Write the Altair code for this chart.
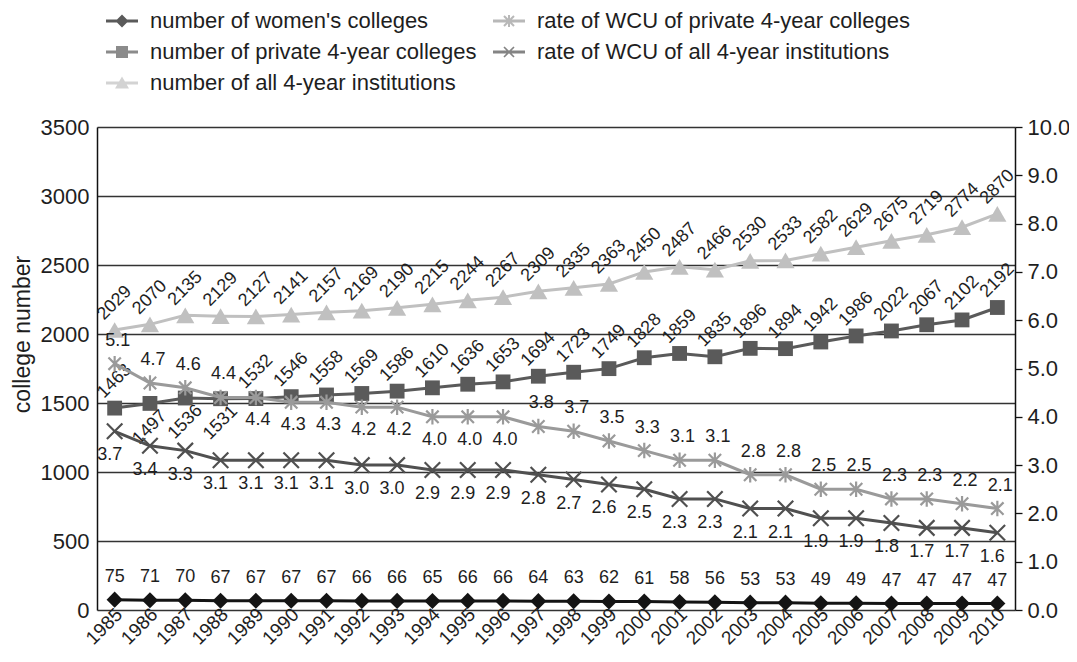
import altair as alt
import pandas as pd

years = list(range(1985, 2011))
women = [75, 71, 70, 67, 67, 67, 67, 66, 66, 65, 66, 66, 64, 63, 62, 61, 58, 56, 53, 53, 49, 49, 47, 47, 47, 47]
private = [1463, 1497, 1536, 1531, 1532, 1546, 1558, 1569, 1586, 1610, 1636, 1653, 1694, 1723, 1749, 1828,
           1859, 1835, 1896, 1894, 1942, 1986, 2022, 2067, 2102, 2192]
all_inst = [2029, 2070, 2135, 2129, 2127, 2141, 2157, 2169, 2190, 2215, 2244, 2267, 2309, 2335, 2363, 2450,
            2487, 2466, 2530, 2533, 2582, 2629, 2675, 2719, 2774, 2870]
rate_private = [5.1, 4.7, 4.6, 4.4, 4.4, 4.3, 4.3, 4.2, 4.2, 4.0, 4.0, 4.0, 3.8, 3.7, 3.5, 3.3, 3.1, 3.1,
                2.8, 2.8, 2.5, 2.5, 2.3, 2.3, 2.2, 2.1]
rate_all = [3.7, 3.4, 3.3, 3.1, 3.1, 3.1, 3.1, 3.0, 3.0, 2.9, 2.9, 2.9, 2.8, 2.7, 2.6, 2.5, 2.3, 2.3,
            2.1, 2.1, 1.9, 1.9, 1.8, 1.7, 1.7, 1.6]

S_WOMEN = "number of women's colleges"
S_RPRIV = "rate of WCU of private 4-year colleges"
S_PRIV = "number of private 4-year colleges"
S_RALL = "rate of WCU of all 4-year institutions"
S_ALL = "number of all 4-year institutions"
series_order = [S_WOMEN, S_PRIV, S_ALL, S_RPRIV, S_RALL]

# label placement (style): above / below the point
private_pos = ["above", "below", "below", "below"] + ["above"] * 22
rate_private_pos = ["above"] * 4 + ["below"] * 8 + ["above"] * 14

colors = {S_WOMEN: "#141414", S_RPRIV: "#9a9a9a", S_PRIV: "#5a5a5a", S_RALL: "#505050", S_ALL: "#c0c0c0"}

FONT = "Liberation Sans"
TXT = "#1e1e1e"


def make_df(name, vals, pos=None):
    return pd.DataFrame({"year": years, "value": vals, "series": name,
                         "pos": pos if pos is not None else ["above"] * len(years)})


df_w = make_df(S_WOMEN, women)
df_p = make_df(S_PRIV, private, private_pos)
df_a = make_df(S_ALL, all_inst)
df_rp = make_df(S_RPRIV, rate_private, rate_private_pos)
df_ra = make_df(S_RALL, rate_all)

# ---------- legend symbol paths (filled polygons, unit coords) ----------
def poly(pts):
    area = 0
    for i in range(len(pts)):
        x1, y1 = pts[i]
        x2, y2 = pts[(i + 1) % len(pts)]
        area += x1 * y2 - x2 * y1
    if area < 0:
        pts = pts[::-1]
    return "M" + "L".join(f"{x:.3f},{y:.3f}" for x, y in pts) + "Z"


def seg(x1, y1, x2, y2, w):
    dx, dy = x2 - x1, y2 - y1
    ln = (dx * dx + dy * dy) ** 0.5
    nx, ny = -dy / ln * w, dx / ln * w
    return poly([(x1 + nx, y1 + ny), (x2 + nx, y2 + ny), (x2 - nx, y2 - ny), (x1 - nx, y1 - ny)])


LINE = seg(-1.6, 0, 1.6, 0, 0.15)
leg_paths = {
    S_WOMEN: LINE + poly([(0, -0.65), (0.65, 0), (0, 0.65), (-0.65, 0)]),
    S_PRIV: LINE + poly([(-0.6, -0.6), (0.6, -0.6), (0.6, 0.6), (-0.6, 0.6)]),
    S_ALL: LINE + poly([(0, -0.65), (0.7, 0.55), (-0.7, 0.55)]),
    S_RPRIV: LINE + seg(0, -0.6, 0, 0.6, 0.1) + seg(-0.5, -0.5, 0.5, 0.5, 0.1) + seg(-0.5, 0.5, 0.5, -0.5, 0.1),
    S_RALL: LINE + seg(-0.5, -0.5, 0.5, 0.5, 0.08) + seg(-0.5, 0.5, 0.5, -0.5, 0.08),
}

ASTER = "M0,-1L0,1M-0.8,-0.8L0.8,0.8M-0.8,0.8L0.8,-0.8"
XMARK = "M-1,-1L1,1M-1,1L1,-1"

# ---------- shared encodings ----------
X = alt.X("year:O", scale=alt.Scale(type="point", padding=0.5),
          axis=alt.Axis(title=None, labelAngle=315, labelFontSize=19, labelAlign="right",
                        labelBaseline="middle", labelPadding=1, labelOffset=4, ticks=False,
                        domain=False, labelColor=TXT, labelFont=FONT))

YL = alt.Y("value:Q", scale=alt.Scale(domain=[0, 3500], nice=False),
           axis=alt.Axis(values=list(range(0, 3501, 500)), format="d", title="college number", grid=True,
                         gridColor="#333333", gridWidth=1.3, domainColor="#111111", domainWidth=1.5,
                         ticks=False, labelFontSize=22, labelPadding=8, labelColor=TXT, labelFont=FONT,
                         titleFontSize=23, titleFontWeight="normal", titleColor=TXT, titleFont=FONT,
                         titleX=-75, titleY=207, titleAngle=270, titleAlign="center",
                         titleBaseline="middle"))

YR = alt.Y("value:Q", scale=alt.Scale(domain=[0, 10], nice=False),
           axis=alt.Axis(orient="right", values=list(range(0, 11)), format=".1f", grid=False,
                         tickSize=7, tickColor="#111111", tickWidth=1.3, domainColor="#111111",
                         domainWidth=1.5, labelFontSize=22, labelPadding=5, labelColor=TXT,
                         labelFont=FONT, title=None))


def line_layer(df, Y, color):
    return alt.Chart(df).mark_line(color=color, strokeWidth=3).encode(x=X, y=Y)


def point_layer(df, Y, color, shape, size, filled=True):
    if filled:
        m = alt.Chart(df).mark_point(shape=shape, size=size, filled=True, color=color, opacity=1)
    else:
        m = alt.Chart(df).mark_point(shape=shape, size=size, filled=False, color=color,
                                     strokeWidth=2.2, opacity=1)
    return m.encode(x=X, y=Y)


def text_layer(df, Y, pos, dx, dy, angle=0, fmt="d"):
    return (alt.Chart(df).transform_filter(f"datum.pos == '{pos}'")
            .mark_text(fontSize=18, font=FONT, color=TXT, dx=dx, dy=dy, angle=angle,
                       align="center", baseline="middle")
            .encode(x=X, y=Y, text=alt.Text("value:Q", format=fmt)))


def make_legend():
    return alt.Legend(title=None, orient="none", legendX=14, legendY=-117, columns=2, columnPadding=16,
                      rowPadding=9, labelFontSize=22, labelFont=FONT, labelColor=TXT,
                      symbolSize=400, symbolStrokeWidth=0, labelOffset=17, padding=0, labelLimit=0)


legend_layer = (alt.Chart(df_w).transform_filter("datum.value < 0")
                .mark_point(filled=True)
                .encode(x=X, y=YL,
                        color=alt.Color("series:N",
                                        scale=alt.Scale(domain=series_order,
                                                        range=[colors[s] for s in series_order]),
                                        legend=make_legend()),
                        shape=alt.Shape("series:N",
                                        scale=alt.Scale(domain=series_order,
                                                        range=[leg_paths[s] for s in series_order]),
                                        legend=make_legend())))

left = alt.layer(
    line_layer(df_a, YL, colors[S_ALL]),
    point_layer(df_a, YL, colors[S_ALL], "triangle-up", 330),
    text_layer(df_a, YL, "above", 19, -19, angle=315),
    line_layer(df_p, YL, colors[S_PRIV]),
    point_layer(df_p, YL, colors[S_PRIV], "square", 220),
    text_layer(df_p, YL, "above", 19, -19, angle=315),
    text_layer(df_p, YL, "below", -17, 17, angle=315),
    line_layer(df_w, YL, colors[S_WOMEN]),
    point_layer(df_w, YL, colors[S_WOMEN], "diamond", 260),
    text_layer(df_w, YL, "above", 0, -23),
    legend_layer,
)

right = alt.layer(
    line_layer(df_rp, YR, colors[S_RPRIV]),
    point_layer(df_rp, YR, colors[S_RPRIV], ASTER, 240, filled=False),
    text_layer(df_rp, YR, "above", 3, -23, fmt=".1f"),
    text_layer(df_rp, YR, "below", 2, 23, fmt=".1f"),
    line_layer(df_ra, YR, colors[S_RALL]),
    point_layer(df_ra, YR, colors[S_RALL], XMARK, 240, filled=False),
    text_layer(df_ra, YR, "above", -5, 24, fmt=".1f"),
)

chart = (alt.layer(left, right)
         .resolve_scale(y="independent")
         .properties(width=918, height=483,
                     autosize=alt.AutoSizeParams(type="none"),
                     padding={"left": 89, "top": 119, "right": 54, "bottom": 44},
                     background="white")
         .configure(font=FONT)
         .configure_view(stroke=None))

chart.save("out.html", embed_options={"renderer": "svg", "actions": False})
